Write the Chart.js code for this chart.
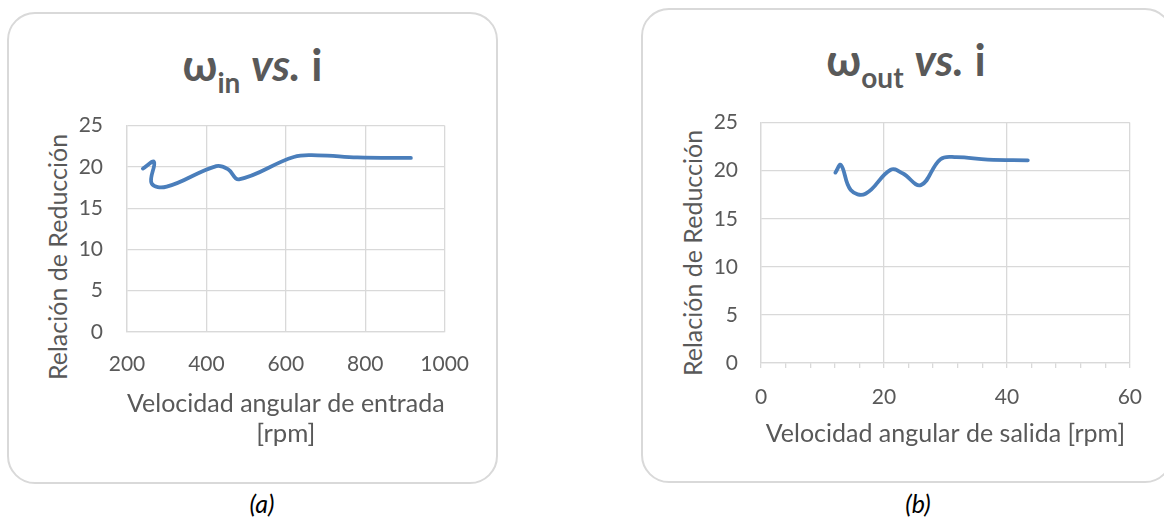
<!DOCTYPE html>
<html>
<head>
<meta charset="utf-8">
<script src="https://cdn.jsdelivr.net/npm/chart.js@4.4.1/dist/chart.umd.min.js"></script>
<style>
  body { margin: 0; width: 1164px; height: 521px; position: relative; overflow: hidden; background: #fff; font-family: Lato, "Noto Sans", sans-serif; }
  .box { position: absolute; box-sizing: border-box; border: 2px solid #d9d9d9; border-radius: 28px; }
  .ttl { position: absolute; text-align: center; font-weight: bold; font-size: 44px; line-height: 44px; color: #595959; white-space: nowrap; }
  .ttl .sub { font-size: 28px; position: relative; top: 12px; }
  .ylab { position: absolute; font-size: 25px; line-height: 1; color: #595959; white-space: nowrap; transform: translate(-50%, -50%) rotate(-90deg); }
  .cap { position: absolute; width: 100px; text-align: center; font-style: italic; font-size: 25px; line-height: 25px; color: #000; }
  canvas { position: absolute; }
</style>
</head>
<body>
<div class="box" style="left:7px;top:12px;width:491px;height:472px"></div>
<div class="box" style="left:641px;top:8px;width:532px;height:475px"></div>

<div class="ttl" style="left:7px;top:42px;width:491px">ω<span class="sub">in</span> <i>vs.</i> i</div>
<div class="ttl" style="left:641px;top:37px;width:530px">ω<span class="sub">out</span> <i>vs.</i> i</div>

<div class="ylab" style="left:57px;top:257px">Relación de Reducción</div>
<div class="ylab" style="left:692px;top:253px">Relación de Reducción</div>

<canvas id="chartIn" width="419" height="360" style="left:70px;top:89px"></canvas>
<canvas id="chartOut" width="459" height="362" style="left:700px;top:87px"></canvas>

<div class="cap" style="left:212px;top:491px">(a)</div>
<div class="cap" style="left:868px;top:491px">(b)</div>

<script>
var inSpeed = [240, 268, 262, 300, 425, 455, 482, 620, 680, 780, 915];
var outSpeed = [12.1, 13.0, 14.6, 17.0, 21.1, 23.1, 26.0, 29.2, 31.8, 36.9, 43.4];
var ratio = [19.8, 20.6, 18.0, 17.6, 20.1, 19.7, 18.5, 21.2, 21.4, 21.15, 21.08];

var yTicks = [0, 5, 10, 15, 20, 25];
var inTicks = [200, 400, 600, 800, 1000];
var outTicks = [0, 20, 40, 60];

var textColor = "#595959";
var gridColor = "#d9d9d9";
var lineColor = "#4a7ebb";
var tickFont = { family: "Lato", size: 21 };

function points(xs) {
  return xs.map(function (x, i) { return { x: x, y: ratio[i] }; });
}

function yScale(pad, width) {
  return {
    min: yTicks[0],
    max: yTicks[yTicks.length - 1],
    ticks: { stepSize: 5, color: textColor, font: tickFont, padding: pad },
    grid: { color: gridColor, lineWidth: 1.3, drawTicks: false },
    border: { color: gridColor, width: 1.3 },
    afterFit: function (s) { s.width = width; }
  };
}

function dataset(xs) {
  return {
    data: points(xs),
    showLine: true,
    borderColor: lineColor,
    borderWidth: 3.8,
    borderCapStyle: "round",
    pointRadius: 0,
    tension: 0.4,
    fill: false
  };
}

var common = {
  responsive: false,
  animation: false,
  plugins: { legend: { display: false }, tooltip: { enabled: false } },
  layout: { padding: 0 }
};

new Chart("chartIn", {
  type: "scatter",
  data: { datasets: [dataset(inSpeed)] },
  options: Object.assign({}, common, {
    scales: {
      x: {
        type: "linear",
        min: inTicks[0],
        max: inTicks[inTicks.length - 1],
        ticks: { stepSize: 200, color: textColor, font: tickFont, padding: 20, maxRotation: 0, callback: function (v) { return String(v); } },
        grid: { color: gridColor, lineWidth: 1.3, drawTicks: false },
        border: { color: gridColor, width: 1.3 },
        title: { display: true, text: ["Velocidad angular de entrada", "[rpm]"], color: textColor, font: { family: "Lato", size: 25.7, lineHeight: 1.17 }, padding: 0 },
        afterFit: function (s) { s.height = 117; }
      },
      y: yScale(24, 57)
    }
  })
});

new Chart("chartOut", {
  type: "scatter",
  data: { datasets: [dataset(outSpeed)] },
  options: Object.assign({}, common, {
    scales: {
      x: {
        type: "linear",
        min: outTicks[0],
        max: outTicks[outTicks.length - 1],
        ticks: {
          stepSize: 4,
          autoSkip: false,
          maxRotation: 0,
          color: textColor,
          font: tickFont,
          padding: 17,
          callback: function (v) { return outTicks.indexOf(v) >= 0 ? String(v) : ""; }
        },
        grid: {
          color: function (ctx) { return ctx.tick && outTicks.indexOf(ctx.tick.value) >= 0 ? gridColor : "rgba(0,0,0,0)"; },
          tickColor: gridColor,
          tickLength: 5,
          lineWidth: 1.3
        },
        border: { color: gridColor, width: 1.3 },
        title: { display: true, text: "Velocidad angular de salida [rpm]", color: textColor, font: { family: "Lato", size: 25, lineHeight: 1.2 }, padding: 0 },
        afterFit: function (s) { s.height = 86; }
      },
      y: yScale(23, 61)
    }
  })
});
</script>
</body>
</html>
